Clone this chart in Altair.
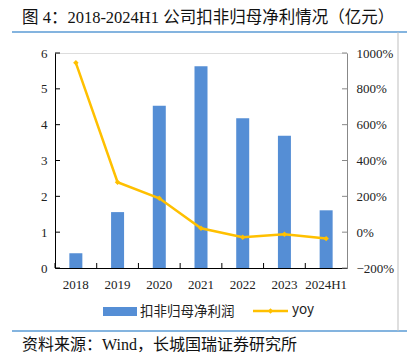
import altair as alt
import pandas as pd

cats = ["2018", "2019", "2020", "2021", "2022", "2023", "2024H1"]
profit = [0.41, 1.56, 4.53, 5.63, 4.18, 3.69, 1.61]
yoy = [9.45, 2.79, 1.89, 0.22, -0.28, -0.12, -0.36]
left_ticks = [0, 1, 2, 3, 4, 5, 6]
right_ticks = [-2, 0, 2, 4, 6, 8, 10]
title_text = "图 4：2018-2024H1 公司扣非归母净利情况（亿元）"
source_text = "资料来源：Wind，长城国瑞证券研究所"
legend_bar = "扣非归母净利润"
legend_line = "yoy"

W, H = 292, 215
SERIF = "Liberation Serif, Noto Sans CJK SC"
SANS = "Noto Sans CJK SC"
BLUE = "#558ED5"
YEL = "#FFC000"

df = pd.DataFrame({"cat": cats, "profit": profit, "yoy": yoy})

xenc = alt.X("cat:N", sort=cats, title=None,
             scale=alt.Scale(paddingInner=0, paddingOuter=0),
             axis=alt.Axis(labelAngle=0, ticks=False, domainColor="#000", labelFont=SERIF,
                           labelFontSize=13, labelColor="#222", labelPadding=10))

ly = alt.Scale(domain=[0, 6], nice=False, zero=False)
ry = alt.Scale(domain=[-2, 10], nice=False, zero=False)

bars = alt.Chart(df).mark_bar(size=13, color=BLUE).encode(
    x=xenc,
    y=alt.Y("profit:Q", scale=ly, title=None,
            axis=alt.Axis(values=left_ticks, ticks=False, grid=False, domainColor="#000",
                          labelFont=SERIF, labelFontSize=13, labelColor="#222", labelPadding=8)),
)

line = alt.Chart(df).mark_line(color=YEL, strokeWidth=2.5).encode(
    x=alt.X("cat:N", sort=cats),
    y=alt.Y("yoy:Q", scale=ry, title=None,
            axis=alt.Axis(orient="right", values=right_ticks, format=".0%", ticks=False, grid=False,
                          domainColor="#888", labelFont=SERIF, labelFontSize=13, labelColor="#222",
                          labelPadding=9)),
)
pts = alt.Chart(df).mark_point(shape="diamond", filled=True, color=YEL, size=30, opacity=1).encode(
    x=alt.X("cat:N", sort=cats),
    y=alt.Y("yoy:Q", scale=ry, axis=None),
)

lt = alt.Chart(pd.DataFrame({"v": left_ticks})).mark_rule(color="#000").encode(
    y=alt.Y("v:Q", scale=ly, axis=None), x=alt.value(0), x2=alt.value(5))
rt = alt.Chart(pd.DataFrame({"v": right_ticks})).mark_rule(color="#888").encode(
    y=alt.Y("v:Q", scale=ry, axis=None), x=alt.value(W - 5), x2=alt.value(W))
xt = alt.Chart(pd.DataFrame({"cat": cats})).mark_rule(color="#000").encode(
    x=alt.X("cat:N", sort=cats, bandPosition=0), y=alt.value(H - 5), y2=alt.value(H))

one = pd.DataFrame({"a": [0]})
title = alt.Chart(one).mark_text(align="left", baseline="middle", font=SERIF, fontSize=16.5,
                                 color="#111").encode(
    x=alt.value(-33), y=alt.value(-35.5), text=alt.value(title_text))
source = alt.Chart(one).mark_text(align="left", baseline="middle", font=SERIF, fontSize=16,
                                  color="#111").encode(
    x=alt.value(-33), y=alt.value(292), text=alt.value(source_text))
topline = alt.Chart(one).mark_rule(color="#5B9BD5", strokeWidth=1.5).encode(
    x=alt.value(-43), x2=alt.value(362), y=alt.value(-21))
botline = alt.Chart(one).mark_rule(color="#5B9BD5", strokeWidth=1.5).encode(
    x=alt.value(-43), x2=alt.value(362), y=alt.value(278))
vline = alt.Chart(one).mark_rule(color="#BFBFBF", strokeWidth=1).encode(
    x=alt.value(343), y=alt.value(-21), y2=alt.value(278))

lg_rect = alt.Chart(one).mark_rect(color=BLUE).encode(
    x=alt.value(48), x2=alt.value(82), y=alt.value(254), y2=alt.value(263))
lg_t1 = alt.Chart(one).mark_text(align="left", baseline="middle", font=SANS, fontSize=13.5,
                                 color="#222").encode(
    x=alt.value(85), y=alt.value(258.5), text=alt.value(legend_bar))
lg_line = alt.Chart(one).mark_rule(color=YEL, strokeWidth=2.5).encode(
    x=alt.value(198), x2=alt.value(233), y=alt.value(258))
lg_pt = alt.Chart(one).mark_point(shape="diamond", filled=True, color=YEL, size=30, opacity=1).encode(
    x=alt.value(215.5), y=alt.value(258))
lg_t2 = alt.Chart(one).mark_text(align="left", baseline="middle", font=SANS, fontSize=13.5,
                                 color="#222").encode(
    x=alt.value(237), y=alt.value(257), text=alt.value(legend_line))

chart = alt.layer(
    bars, line, pts, lt, rt, xt, title, source, topline, botline, vline,
    lg_rect, lg_t1, lg_line, lg_pt, lg_t2
).resolve_scale(y="independent").properties(
    width=W, height=H,
    autosize=alt.AutoSizeParams(type="none"),
    padding={"left": 47, "top": 45, "right": 60, "bottom": 87},
).configure_view(stroke=None).configure(background="white")

chart.save("out.html", embed_options={"renderer": "svg", "actions": False})
